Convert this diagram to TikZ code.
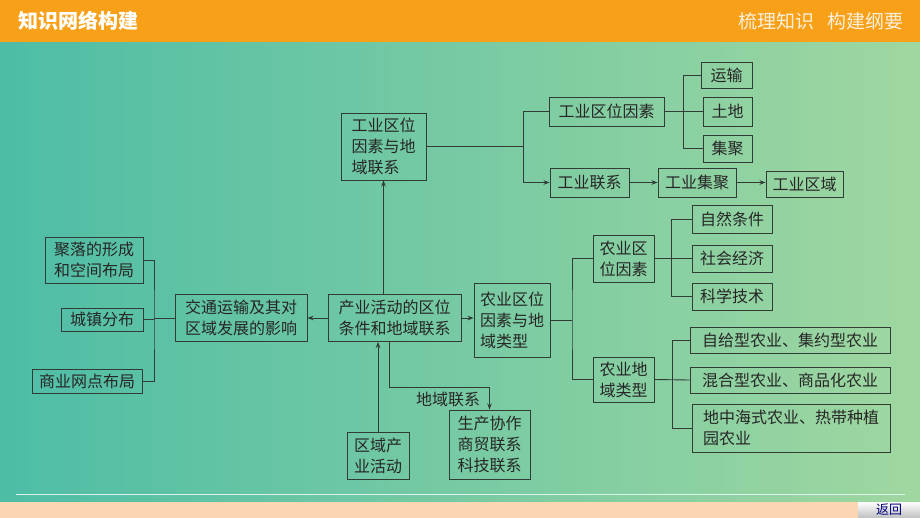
\documentclass[tikz,border=0pt]{standalone}
\usepackage{fontspec}
\newfontfamily\cjk{Noto Sans CJK SC}
\usetikzlibrary{arrows.meta}

\definecolor{bgleft}{RGB}{78,189,166}
\definecolor{bgright}{RGB}{160,215,160}
\definecolor{barorange}{RGB}{248,160,24}
\definecolor{peach}{RGB}{252,214,178}
\definecolor{linegray}{RGB}{50,60,55}

\tikzset{
  box/.style={draw=linegray, line width=0.9pt, inner sep=2pt, align=left,
    font=\cjk\fontsize{16}{21}\selectfont, text=black!85},
  link/.style={draw=linegray, line width=0.9pt},
  arr/.style={link, -{Stealth[length=6pt,width=4.5pt]}},
}

\begin{document}
\begin{tikzpicture}[x=1pt, y=-1pt]
\useasboundingbox (0,0) rectangle (920,518);
\shade[left color=bgleft, right color=bgright] (0,0) rectangle (920,518);
\fill[barorange] (0,0) rectangle (920,42);
\draw[white!80!bgleft, line width=0.8pt] (16,494) -- (905,494);
\fill[peach] (0,502) rectangle (920,518);
\shade[top color=white, bottom color=black!25] (858,502) rectangle (920,518);

\node[font=\cjk\bfseries\fontsize{20}{24}\selectfont, text=white] (title) at (78,21) {知识网络构建};
\node[font=\cjk\fontsize{19}{23}\selectfont, text=white!85!barorange] (subtitle) at (821,21) {梳理知识\hspace{14pt}构建纲要};
\node[font=\cjk\fontsize{13}{15}\selectfont, text=blue!50!black] (back) at (889,510) {返回};

% left part
\node[box, minimum width=98pt, minimum height=46pt] (jl) at (94,260) {聚落的形成\\和空间布局};
\node[box, minimum width=82pt, minimum height=23pt] (cz) at (102,319.5) {城镇分布};
\node[box, minimum width=110pt, minimum height=24pt] (sy) at (87,381) {商业网点布局};
\node[box, minimum width=132pt, minimum height=47pt] (jt) at (241,318) {交通运输及其对\\区域发展的影响};
\node[box, minimum width=133pt, minimum height=47pt] (cy) at (394.5,318) {产业活动的区位\\条件和地域联系};
\node[box, minimum width=85pt, minimum height=67pt] (gy) at (383.5,146.5) {工业区位\\因素与地\\域联系};
\node[box, minimum width=76pt, minimum height=74pt] (ny) at (512,320) {农业区位\\因素与地\\域类型};
\node[box, minimum width=62pt, minimum height=47pt] (qy) at (378,455.5) {区域产\\业活动};
\node[box, minimum width=81pt, minimum height=69pt] (sc) at (489.5,444.5) {生产协作\\商贸联系\\科技联系};

% industry
\node[box, minimum width=115pt, minimum height=29pt] (gq) at (606.5,111.5) {工业区位因素};
\node[box, minimum width=51pt, minimum height=26pt] (ys) at (726.5,75) {运输};
\node[box, minimum width=49pt, minimum height=29pt] (td) at (727.5,111.5) {土地};
\node[box, minimum width=49pt, minimum height=27pt] (jj) at (727.5,148.5) {集聚};
\node[box, minimum width=79pt, minimum height=29pt] (gl) at (589.5,182.5) {工业联系};
\node[box, minimum width=78pt, minimum height=29pt] (gj) at (697,182.5) {工业集聚};
\node[box, minimum width=77pt, minimum height=26pt] (gqy) at (804.5,184) {工业区域};

% agriculture
\node[box, minimum width=61pt, minimum height=47pt] (nq) at (623.5,258.5) {农业区\\位因素};
\node[box, minimum width=80pt, minimum height=28pt] (zr) at (732,219) {自然条件};
\node[box, minimum width=80pt, minimum height=27pt] (sh) at (732,258.5) {社会经济};
\node[box, minimum width=80pt, minimum height=27pt] (kx) at (732,296.5) {科学技术};
\node[box, minimum width=61pt, minimum height=45pt] (nd) at (623.5,379.5) {农业地\\域类型};
\node[box, minimum width=200pt, minimum height=26pt] (zg) at (790,340) {自给型农业、集约型农业};
\node[box, minimum width=200pt, minimum height=26pt] (hh) at (790,380) {混合型农业、商品化农业};
\node[box, minimum width=198pt, minimum height=48pt] (dz) at (791,428) {地中海式农业、热带种植\\园农业};

\coordinate (lb) at (154,318);
\coordinate (gb) at (523,146.5);
\coordinate (gqb) at (683,111.5);
\coordinate (nb) at (572,320);
\coordinate (nqb) at (671,258.5);
\coordinate (ndb) at (672,380);
\coordinate (bend) at (389,387);

\draw[link] (jl.east) -| (lb) |- (sy.east);
\draw[link] (cz.east) -- (cz.east -| lb);
\draw[link] (lb) -- (jt.west);
\draw[arr] (cy.west) -- (jt.east);
\draw[arr] (gy.south |- cy.north) -- (gy.south);
\draw[arr] (qy.north) -- (qy.north |- cy.south);
\draw[arr] (cy.east) -- (cy.east -| ny.west);
\draw[arr] (cy.south -| bend) |- (sc.north |- bend) -- (sc.north);
\node[font=\cjk\fontsize{16}{20}\selectfont, text=black!85] (dyl) at (448,399) {地域联系};

\draw[link] (gy.east) -- (gb);
\draw[link] (gq.west) -| (gb);
\draw[arr] (gb) |- (gl.west);
\draw[link] (gq.east) -- (td.west);
\draw[link] (ys.west) -| (gqb) |- (jj.west);
\draw[arr] (gl.east) -- (gj.west);
\draw[arr] (gj.east) -- (gj.east -| gqy.west);

\draw[link] (ny.east) -- (nb);
\draw[link] (nq.west) -| (nb) |- (nd.west);
\draw[link] (nq.east) -- (sh.west);
\draw[link] (zr.west) -| (nqb) |- (kx.west);
\draw[link] (nd.east) -- (hh.west);
\draw[link] (zg.west) -| (ndb) |- (dz.west);
\end{tikzpicture}
\end{document}
